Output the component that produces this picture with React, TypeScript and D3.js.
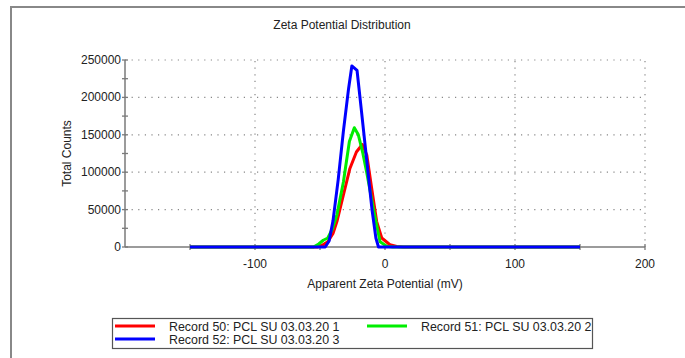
import React from "react";
import * as d3 from "d3";

// Apparent zeta potential (mV) and total counts for each record
const zeta50 = [-150, -52, -48, -44, -40, -37, -32, -27, -22, -17.5, -14, -10.3, -6.4, -2.5, 3.8, 9, 14, 150];
const counts50 = [0, 0, 2500, 7000, 18000, 34000, 69500, 105000, 127000, 137000, 123000, 79000, 34000, 12000, 3000, 800, 0, 0];

const zeta51 = [-150, -55, -51, -47.5, -44, -40.5, -37, -32, -27.4, -23.6, -20.5, -17, -14.1, -8.5, -3.8, 1.3, 6, 150];
const counts51 = [0, 0, 4000, 9000, 12000, 24000, 43000, 87000, 141000, 159500, 150000, 125000, 100000, 47000, 7000, 1000, 0, 0];

const zeta52 = [-150, -46, -43, -40, -36, -32, -28, -25.5, -21.5, -18, -14, -10, -7, -5, 150];
const counts52 = [0, 0, 8000, 35000, 90000, 155000, 212000, 242000, 236000, 180000, 115000, 50000, 12000, 0, 0];

const recordNames = [
  "Record 50: PCL SU 03.03.20 1",
  "Record 51: PCL SU 03.03.20 2",
  "Record 52: PCL SU 03.03.20 3",
];
const recordColors = ["#ff0000", "#00ee00", "#0000ff"];

const xTickLabels = [-100, 0, 100, 200];
const xMinorTicks = [-150, -100, -50, 0, 50, 100, 150, 200];
const yTickLabels = [0, 50000, 100000, 150000, 200000, 250000];
const yMinorTicks = d3.range(0, 250001, 25000);

const titleText = "Zeta Potential Distribution";
const xTitle = "Apparent Zeta Potential (mV)";
const yTitle = "Total Counts";

const W = 685;
const H = 358;
const left = 125;
const right = 645;
const top = 60;
const bottom = 247;
const font = "'Liberation Sans', Arial, sans-serif";
const axisColor = "#7a7a7a";
const textColor = "#222";

export default function App() {
  const x = d3.scaleLinear().domain([-200, 200]).range([left, right]);
  const y = d3.scaleLinear().domain([0, 250000]).range([bottom, top]);

  const series = [
    { xs: zeta50, ys: counts50 },
    { xs: zeta51, ys: counts51 },
    { xs: zeta52, ys: counts52 },
  ];
  const line = d3
    .line<[number, number]>()
    .x((d) => x(d[0]))
    .y((d) => y(d[1]));

  const legendRows = [
    { idx: 0, lx: 115, tx: 169, ty: 326 },
    { idx: 1, lx: 367, tx: 421, ty: 326 },
    { idx: 2, lx: 115, tx: 169, ty: 339 },
  ];

  return (
    <svg
      width={W}
      height={H}
      style={{ position: "absolute", left: 0, top: 0, background: "#fff" }}
      fontFamily={font}
    >
      {/* outer frame */}
      <path d={`M11,${H} V7 H${W}`} fill="none" stroke="#888" strokeWidth={2} />

      <text x={342} y={29} textAnchor="middle" fontSize={12} fill={textColor}>
        {titleText}
      </text>

      {/* dotted grid */}
      {yTickLabels.slice(1).map((v) => (
        <line
          key={"gy" + v}
          x1={left}
          x2={right}
          y1={y(v)}
          y2={y(v)}
          stroke="#888"
          strokeWidth={1.2}
          strokeDasharray="1.2 5.4"
        />
      ))}
      {xTickLabels.map((v) => (
        <line
          key={"gx" + v}
          x1={x(v)}
          x2={x(v)}
          y1={bottom}
          y2={top}
          stroke="#888"
          strokeWidth={1.2}
          strokeDasharray="1.2 5.4"
        />
      ))}

      {/* axes */}
      <line x1={left} x2={left} y1={top} y2={bottom} stroke={axisColor} strokeWidth={1.5} />
      <line x1={left} x2={right} y1={bottom} y2={bottom} stroke={axisColor} strokeWidth={1.5} />
      {yMinorTicks.map((v) => (
        <line key={"ty" + v} x1={left - 3} x2={left + 3} y1={y(v)} y2={y(v)} stroke={axisColor} strokeWidth={1.3} />
      ))}
      {xMinorTicks.map((v) => (
        <line key={"tx" + v} x1={x(v)} x2={x(v)} y1={bottom - 3} y2={bottom + 3} stroke={axisColor} strokeWidth={1.3} />
      ))}
      {yTickLabels.map((v) => (
        <text key={"ly" + v} x={left - 4} y={y(v) + 4} textAnchor="end" fontSize={12} fill={textColor}>
          {v}
        </text>
      ))}
      {xTickLabels.map((v) => (
        <text key={"lx" + v} x={x(v)} y={268} textAnchor="middle" fontSize={12} fill={textColor}>
          {v}
        </text>
      ))}
      <text x={x(0)} y={288} textAnchor="middle" fontSize={12} fill={textColor}>
        {xTitle}
      </text>
      <text
        transform={`translate(71,${(top + bottom) / 2}) rotate(-90)`}
        textAnchor="middle"
        fontSize={12}
        fill={textColor}
      >
        {yTitle}
      </text>

      {/* distribution curves */}
      {series.map((s, i) => (
        <path
          key={"s" + i}
          d={line(s.xs.map((v, j) => [v, s.ys[j]] as [number, number])) || ""}
          fill="none"
          stroke={recordColors[i]}
          strokeWidth={3}
          strokeLinejoin="round"
        />
      ))}

      {/* legend */}
      <rect x={112.5} y={318.5} width={480} height={30} fill="#fff" stroke="#555" strokeWidth={1.2} />
      {legendRows.map((r) => (
        <g key={"lg" + r.idx}>
          <line x1={r.lx} x2={r.lx + 40} y1={r.ty} y2={r.ty} stroke={recordColors[r.idx]} strokeWidth={3} />
          <text x={r.tx} y={r.ty + 4.5} fontSize={12.4} fill={textColor}>
            {recordNames[r.idx]}
          </text>
        </g>
      ))}
    </svg>
  );
}
